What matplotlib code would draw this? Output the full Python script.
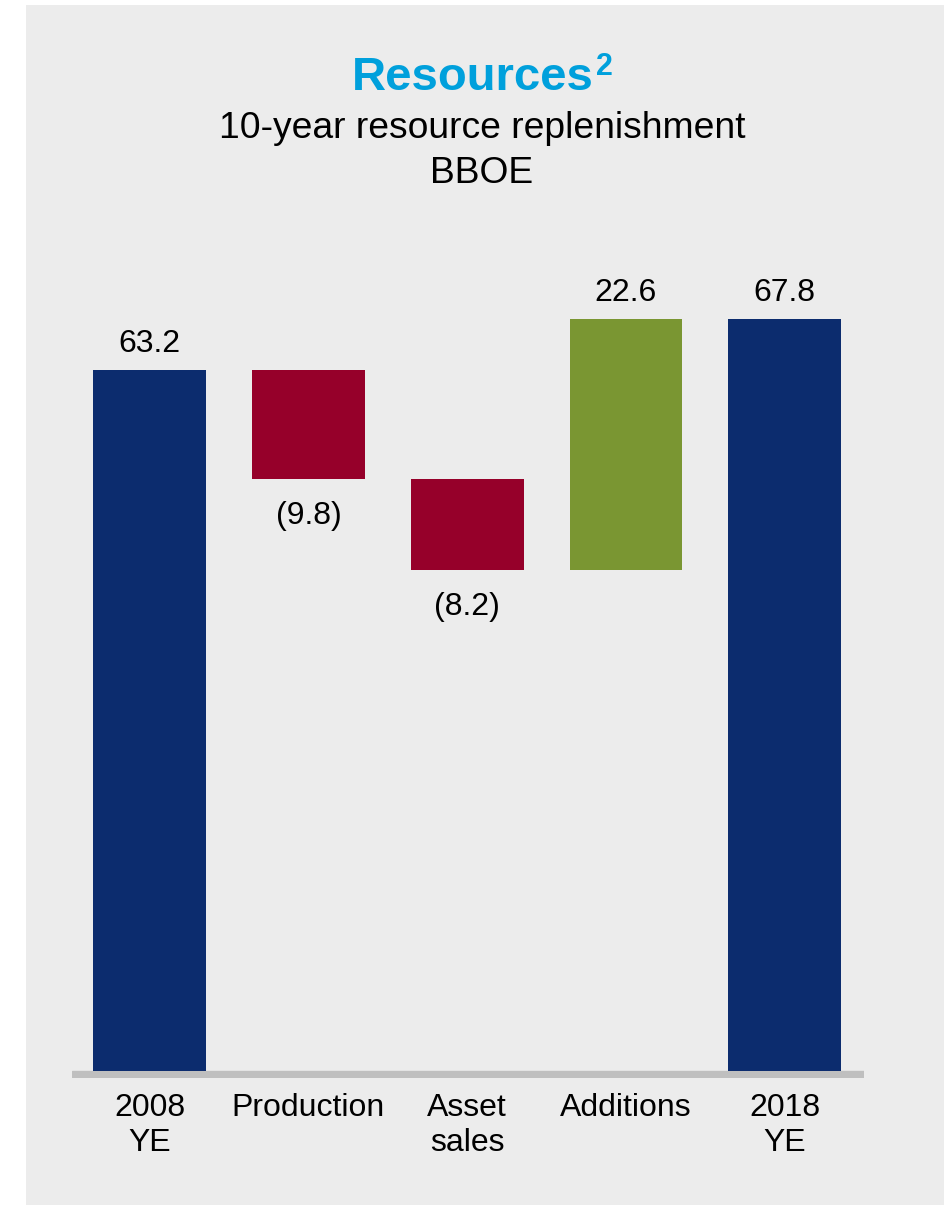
import matplotlib
matplotlib.use("Agg")
import matplotlib.pyplot as plt
from matplotlib.patches import Rectangle

# ---- data ----
categories = ["2008\nYE", "Production", "Asset\nsales", "Additions", "2018\nYE"]
values = [63.2, -9.8, -8.2, 22.6, 67.8]
kinds = ["total", "delta", "delta", "delta", "total"]
value_labels = ["63.2", "(9.8)", "(8.2)", "22.6", "67.8"]

title = "Resources"
title_sup = "2"
subtitle1 = "10-year resource replenishment"
subtitle2 = "BBOE"

NAVY = "#0c2c6e"
RED = "#96002a"
GREEN = "#7a9632"
BLUE = "#00a0dc"
PANEL = "#ececec"
GRAY = "#bfbfbf"

plt.rcParams["font.family"] = ["Liberation Sans", "DejaVu Sans"]

W, H = 944, 1205
fig = plt.figure(figsize=(W / 100, H / 100), dpi=100)
fig.patch.set_facecolor("white")
fig.patches.append(Rectangle((26 / W, 0), (W - 26) / W, (H - 5) / H,
                             transform=fig.transFigure, facecolor=PANEL,
                             edgecolor="none", zorder=-10))

ax_left, ax_right = 72, 864
ax_bottom, ax_top = 1078, 250
ax = fig.add_axes([ax_left / W, 1 - ax_bottom / H,
                   (ax_right - ax_left) / W, (ax_bottom - ax_top) / H])
ax.set_facecolor("none")
ax.set_zorder(1)

# waterfall geometry
bottoms, heights, colors = [], [], []
running = 0.0
for v, k in zip(values, kinds):
    if k == "total":
        bottoms.append(0)
        heights.append(v)
        colors.append(NAVY)
        running = v
    else:
        bottoms.append(running + min(v, 0))
        heights.append(abs(v))
        colors.append(RED if v < 0 else GREEN)
        running += v

x = list(range(len(categories)))
ax.bar(x, heights, bottom=bottoms, width=0.71, color=colors, zorder=3)

ax.set_xlim(-0.49, 4.5)
ax.set_ylim(-0.63, 74.0)
ax.axhspan(-0.63, 0, color=GRAY, zorder=2)

for i, (b, h, v, lab) in enumerate(zip(bottoms, heights, values, value_labels)):
    if v >= 0:
        ax.annotate(lab, (i, b + h), xytext=(0, 13), textcoords="offset points",
                    ha="center", va="baseline", fontsize=23, color="black")
    else:
        ax.annotate(lab, (i, b), xytext=(0, -32.5), textcoords="offset points",
                    ha="center", va="baseline", fontsize=23, color="black")

ax.set_xticks(x)
ax.set_xticklabels(categories, fontsize=23, color="black", linespacing=1.22)
ax.tick_params(axis="x", length=0, pad=10.5)
ax.set_yticks([])
for s in ax.spines.values():
    s.set_visible(False)

# titles
fig.text(473 / W, 1 - 90 / H, title, ha="center", va="baseline",
         fontsize=34, fontweight="bold", color=BLUE)
fig.text(596 / W, 1 - 75 / H, title_sup, ha="left", va="baseline",
         fontsize=22, fontweight="bold", color=BLUE)
fig.text(482 / W, 1 - 138 / H, subtitle1, ha="center", va="baseline",
         fontsize=26.8, color="black")
fig.text(482 / W, 1 - 183 / H, subtitle2, ha="center", va="baseline",
         fontsize=26.8, color="black")

fig.savefig("out.png", dpi=100, facecolor="white")
